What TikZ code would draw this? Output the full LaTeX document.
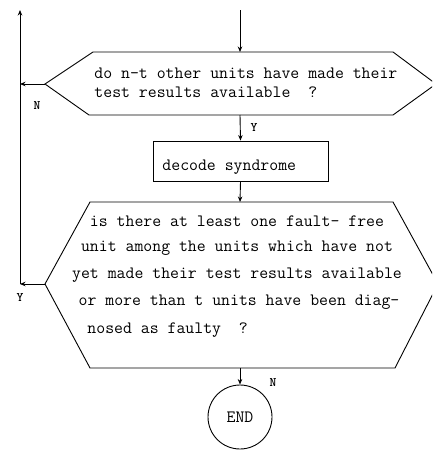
\documentclass[tikz,border=0pt]{standalone}
\usepackage{fontspec}
\usetikzlibrary{arrows.meta}

\begin{document}
\begin{tikzpicture}[x=1pt,y=-1pt,line width=0.9pt,
  >={Stealth[length=5.5pt,width=4.5pt]},
  txt/.style={font=\ttfamily\fontsize{17.3}{19}\selectfont,inner sep=0pt},
  lbl/.style={font=\ttfamily\bfseries\fontsize{13}{15}\selectfont,inner sep=0pt},
  procbox/.style={draw,minimum width=175pt,minimum height=40pt,inner sep=0pt},
  termcircle/.style={draw,circle,minimum size=64pt,inner sep=0pt}]
\useasboundingbox (0,0) rectangle (432,455);
\clip (0,0) rectangle (432,455);

% first decision
\coordinate (h1tl) at (93,52);  \coordinate (h1tr) at (393,52);
\coordinate (h1r)  at (436,84); \coordinate (h1br) at (393,115);
\coordinate (h1bl) at (89,115); \coordinate (h1l)  at (45,84);
\coordinate (h1t) at (240,52);  \coordinate (h1b) at (240,115);
\draw (h1tl) -- (h1tr) -- (h1r) -- (h1br) -- (h1bl) -- (h1l) -- cycle;
\node[txt,anchor=west] (q1a) at (94,73) {do n-t other units have made their};
\node[txt,anchor=west] (q1b) at (94,92) {test results available\ \ ?};

% process box
\node[procbox] (dec) at (240.5,161) {};
\node[txt,anchor=west] (dect) at (162,167) {decode syndrome};

% second decision
\coordinate (h2tl) at (90,202);  \coordinate (h2tr) at (393,202);
\coordinate (h2r)  at (438,284); \coordinate (h2br) at (395,368);
\coordinate (h2bl) at (90,368);  \coordinate (h2l)  at (45,284);
\coordinate (h2t) at (240,202);  \coordinate (h2b) at (240,368);
\draw (h2tl) -- (h2tr) -- (h2r) -- (h2br) -- (h2bl) -- (h2l) -- cycle;
\node[txt] (q2a) at (237,221) {is there at least one fault- free};
\node[txt] (q2b) at (237,248) {unit among the units which have not};
\node[txt] (q2c) at (237,275) {yet made their test results available};
\node[txt] (q2d) at (239,302) {or more than t units have been diag-};
\node[txt,anchor=west] (q2e) at (87,330) {nosed as faulty\ \ ?};

% terminal
\node[termcircle] (fin) at (240,417) {};
\node[txt] (fint) at (240,417) {END};

% connectors
\coordinate (in) at (240,10);
\coordinate (l1) at (20,84);
\coordinate (l2) at (20,284);
\coordinate (ltop) at (20,10);
\draw[->] (in) -- (h1t);
\draw[->] (h1b) -- (dec.north);
\draw[->] (dec.south) -- (h2t);
\draw[->] (h2b) -- (fin.north);
\draw[->] (h1l) -- (l1);
\draw[->] (h2l) -- (l2);
\draw[->] (l2) -- (ltop);

% branch labels
\node[lbl] (n1) at (37,106) {N};
\node[lbl] (y1) at (254,128) {Y};
\node[lbl] (y2) at (20,298) {Y};
\node[lbl] (n2) at (273,383) {N};
\end{tikzpicture}
\end{document}
